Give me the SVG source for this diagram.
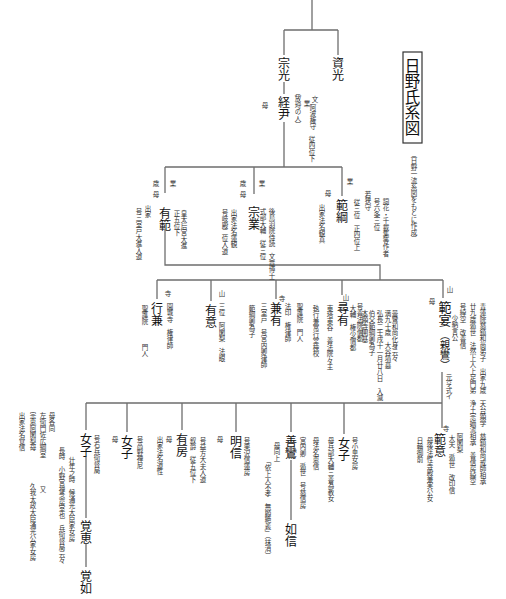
<svg xmlns="http://www.w3.org/2000/svg" width="506" height="599" viewBox="0 0 506 599">
<style>
text{font-family:"Noto Sans CJK JP","Noto Sans CJK SC",sans-serif;writing-mode:vertical-rl;}
.n{font-size:12px;fill:#111;}
.b{font-size:13px;fill:#111;}
.p{font-size:10px;fill:#111;}
.a{font-size:6.5px;fill:#333;}
.t{font-size:15.5px;fill:#111;}
#connectors path{fill:none;stroke:#6e6e6e;stroke-width:1.3;}
</style>
<rect width="506" height="599" fill="#fff"/>
<g id="connectors">
<path d="M312,0V30M284,30H338M284,30V55M338,30V55"/>
<path d="M284,82V94M284,122V167M165,167H342M165,167V193M254,167V194M342,167V196"/>
<path d="M165,230V265H380V280M157,280H443M157,280V299M211,280V301M276,280V299M342,280V295M443,280V298"/>
<path d="M442,372V428M86,403H442M86,403V430M127,403V432M182,403V430M236,403V432M291,403V432M344,403V434"/>
<path d="M86,456V518M86,544V567M291,460V520"/>
</g>
<g id="title">
<rect x="403" y="52" width="19" height="91" fill="none" stroke="#333" stroke-width="1.2"/>
<text class="t" x="412.5" y="58">日野氏系図</text>
<text class="a" x="414" y="151">（日野一流系図をもとに作成）</text>
</g>
<g id="sukemitsu"><text class="n" x="338" y="57">資光</text></g>
<g id="munemitsu"><text class="n" x="284" y="57">宗光</text></g>
<g id="tsunemasa">
<text class="n" x="284" y="96">経尹</text>
<text class="a" x="265" y="102">母</text>
<text class="a" x="298" y="89">（放埒の人）</text>
<text class="a" x="307" y="100">業</text>
<text class="a" x="315" y="96">文</text>
<text class="a" x="313" y="104">阿波権守</text>
<text class="a" x="312" y="136">従四位下</text>
</g>
<g id="arinori">
<text class="a" x="156" y="180">歳</text>
<text class="a" x="156" y="191">母</text>
<text class="a" x="173" y="180">業</text>
<text class="n" x="165" y="207">有範</text>
<text class="a" x="177" y="210">正五位下</text>
<text class="a" x="184" y="210">皇太后宮大進</text>
<text class="a" x="148" y="205">出家</text>
<text class="a" x="139" y="208">号三室戸大進入道</text>
</g>
<g id="munenari">
<text class="a" x="243" y="180">歳</text>
<text class="a" x="243" y="191">母</text>
<text class="a" x="262" y="180">業</text>
<text class="n" x="254" y="206">宗業</text>
<text class="a" x="234" y="209">出家法名蓮観</text>
<text class="a" x="225" y="209">号岐殿二位入道</text>
<text class="a" x="263" y="208">式部大輔　従三位</text>
<text class="a" x="272" y="208">後鳥羽院侍読　文章博士</text>
</g>
<g id="noritsuna">
<text class="a" x="350" y="178">業</text>
<text class="a" x="328" y="190">母</text>
<text class="n" x="342" y="199">範綱</text>
<text class="a" x="322" y="204">出家法名観真</text>
<text class="a" x="357" y="199">従三位　正四位上</text>
<text class="a" x="368" y="191">若狭守</text>
<text class="a" x="377" y="198">号六条三位</text>
<text class="a" x="386" y="198">詞花・千載集等作者</text>
</g>
<g id="gyoken">
<text class="a" x="168" y="290">寺</text>
<text class="n" x="157" y="302">行兼</text>
<text class="a" x="145" y="305">聖護院　　　門人</text>
<text class="a" x="170" y="303">園城寺　権律師</text>
</g>
<g id="ui">
<text class="a" x="222" y="290">山</text>
<text class="n" x="211" y="304">有意</text>
<text class="a" x="222" y="303">三位　阿闍梨　法眼</text>
</g>
<g id="kenyu">
<text class="a" x="282" y="295">寺</text>
<text class="n" x="276" y="302">兼有</text>
<text class="a" x="252" y="305">範綱卿為子</text>
<text class="a" x="264" y="303">三室戸　号宮内卿律師</text>
<text class="a" x="288" y="303">法印　権律師</text>
<text class="a" x="300" y="303">聖護院　門人</text>
</g>
<g id="jinyu">
<text class="a" x="346" y="294">山</text>
<text class="n" x="343" y="302">尋有</text>
<text class="a" x="316" y="305">執行兼常行堂検校</text>
<text class="a" x="330" y="305">東塔東谷　善法院々主</text>
<text class="a" x="353" y="305">大輔　権少僧都</text>
<text class="a" x="360" y="303">号善法院僧都</text>
</g>
<g id="hannen">
<text class="a" x="450" y="286">山</text>
<text class="a" x="432" y="298">母</text>
<text class="b" x="445" y="301">範宴</text>
<text class="p" x="445" y="330">（親鸞）</text>
<text class="a" x="365" y="310">本願寺開基</text>
<text class="a" x="372" y="310">伯父範綱卿為子</text>
<text class="a" x="380" y="310">弘長二壬戌十一月廿八日　入滅</text>
<text class="a" x="388" y="310">満九十歳　大谷墳墓</text>
<text class="a" x="395" y="310">曇鸞和尚化身云々</text>
<text class="a" x="455" y="315">少納言公</text>
<text class="a" x="463" y="303">号綽空　改善信</text>
<text class="a" x="473" y="303">廿九歳遁世　法然上人上足門弟　浄土宗嫡流相承　善信房綽空</text>
<text class="a" x="483" y="303">青蓮院慈鎮和尚弟子　出家九歳　天台顕学　慈鎮和尚戒師相承</text>
<text class="a" x="449" y="374">元亨式イ</text>
</g>
<g id="nyoshi1">
<text class="n" x="86" y="433">女子</text>
<text class="a" x="22" y="412">出家法名覚信</text>
<text class="a" x="33" y="412">宗恵阿闍梨母</text>
<text class="a" x="43" y="412">左衛門佐広綱室</text>
<text class="a" x="43" y="486">又</text>
<text class="a" x="52" y="412">母各同</text>
<text class="a" x="33" y="483">久我太政大臣通光公家女房</text>
<text class="a" x="62" y="447">長時　小野宮禅念房室也　兵衛督局云々</text>
<text class="a" x="72" y="457">壮年之時　候通光大臣家女房</text>
<text class="a" x="97" y="435">号右兵衛督局</text>
</g>
<g id="kakue"><text class="n" x="86" y="520">覚恵</text></g>
<g id="kakunyo"><text class="n" x="86" y="570">覚如</text></g>
<g id="nyoshi2">
<text class="a" x="115" y="436">母</text>
<text class="n" x="127" y="435">女子</text>
<text class="a" x="140" y="436">号高野禅尼</text>
</g>
<g id="arifusa">
<text class="a" x="160" y="436">出家法名道性</text>
<text class="a" x="169" y="436">母</text>
<text class="n" x="182" y="433">有房</text>
<text class="a" x="193" y="437">叙爵　従五位下</text>
<text class="a" x="203" y="437">号益方大夫入道</text>
</g>
<g id="myoshin">
<text class="a" x="220" y="436">母</text>
<text class="n" x="236" y="435">明信</text>
<text class="a" x="247" y="437">号栗沢信蓮房</text>
</g>
<g id="zenran">
<text class="a" x="277" y="442">母同上</text>
<text class="a" x="268" y="458">「依上人不孝　無顧絶義」（抹消）</text>
<text class="n" x="291" y="435">善鸞</text>
<text class="a" x="303" y="437">宮内卿　遁世　号慈信房</text>
</g>
<g id="nyoshin"><text class="n" x="291" y="523">如信</text></g>
<g id="nyoshi3">
<text class="a" x="316" y="437">母法名恵信</text>
<text class="a" x="331" y="437">母兵部大輔三善為教女</text>
<text class="n" x="344" y="437">女子</text>
<text class="a" x="355" y="437">号小黒女房</text>
</g>
<g id="hani">
<text class="a" x="446" y="425">寺</text>
<text class="n" x="440" y="433">範意</text>
<text class="a" x="420" y="437">日輪御前</text>
<text class="a" x="430" y="437">母後法性寺殿兼実公女</text>
<text class="a" x="452" y="435">大夫　遁世　改印信</text>
<text class="a" x="460" y="433">阿闍梨</text>
</g>
</svg>
